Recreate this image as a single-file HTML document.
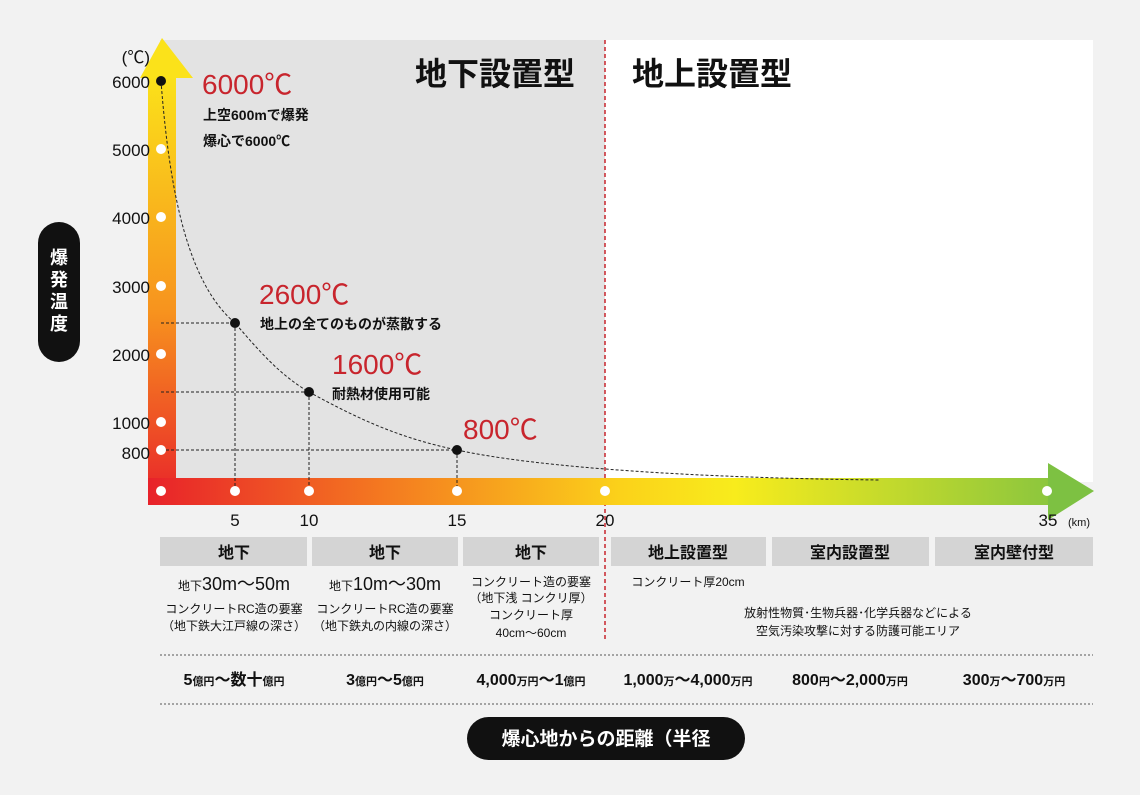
<!DOCTYPE html>
<html><head><meta charset="utf-8"><style>
body{margin:0;background:#f2f2f2;}
svg text{font-family:"Liberation Sans","Noto Sans CJK JP",sans-serif;}
</style></head><body>
<svg width="1140" height="790" xmlns="http://www.w3.org/2000/svg">
<defs>
<linearGradient id="gv" x1="0" y1="1" x2="0" y2="0">
<stop offset="0" stop-color="#e8222a"/><stop offset="0.45" stop-color="#f7931e"/><stop offset="1" stop-color="#fbe21a"/></linearGradient>
<linearGradient id="gh" x1="150" y1="0" x2="1093" y2="0" gradientUnits="userSpaceOnUse">
<stop offset="0" stop-color="#e8222a"/><stop offset="0.25" stop-color="#f47a20"/><stop offset="0.5" stop-color="#fbd21a"/><stop offset="0.62" stop-color="#f8ec1c"/><stop offset="1" stop-color="#7dc142"/></linearGradient>
</defs>
<rect x="0" y="0" width="1140" height="790" fill="#f2f2f2"/>
<rect x="160" y="40" width="445" height="442" fill="#e3e3e3"/>
<rect x="605" y="40" width="488" height="442" fill="#ffffff"/>
<line x1="605" y1="40" x2="605" y2="642" stroke="#c8252d" stroke-width="1.5" stroke-dasharray="4,3"/>
<text x="495" y="85" font-size="32" font-weight="bold" text-anchor="middle" fill="#111">地下設置型</text>
<text x="712" y="85" font-size="32" font-weight="bold" text-anchor="middle" fill="#111">地上設置型</text>
<rect x="148" y="75" width="28" height="430" fill="url(#gv)"/>
<polygon points="140,78 162,38 193,78" fill="#fbe21a"/>
<rect x="148" y="478" width="905" height="27" fill="url(#gh)"/>
<polygon points="1048,463 1094,491 1048,520" fill="#7dc142"/>
<g stroke="#222" stroke-width="1" stroke-dasharray="3,2" fill="none">
<line x1="161" y1="323" x2="235" y2="323"/><line x1="235" y1="323" x2="235" y2="490"/>
<line x1="161" y1="392" x2="309" y2="392"/><line x1="309" y1="392" x2="309" y2="490"/>
<line x1="161" y1="450" x2="457" y2="450"/><line x1="457" y1="450" x2="457" y2="490"/>
<path d="M161,81 C170,200 190,285 235,323 C260,352 280,375 309,392 C360,420 400,438 457,450 C540,468 700,478 880,480"/>
</g>
<g fill="#fff">
<circle cx="161" cy="149" r="5"/><circle cx="161" cy="217" r="5"/><circle cx="161" cy="286" r="5"/><circle cx="161" cy="354" r="5"/><circle cx="161" cy="422" r="5"/><circle cx="161" cy="450" r="5"/>
<circle cx="161" cy="491" r="5"/><circle cx="235" cy="491" r="5"/><circle cx="309" cy="491" r="5"/><circle cx="457" cy="491" r="5"/><circle cx="605" cy="491" r="5"/><circle cx="1047" cy="491" r="5"/>
</g>
<g fill="#111"><circle cx="161" cy="81" r="5"/><circle cx="235" cy="323" r="5"/><circle cx="309" cy="392" r="5"/><circle cx="457" cy="450" r="5"/></g>
<g font-size="17" fill="#111" text-anchor="end">
<text x="150" y="63">(℃)</text>
<text x="150" y="88">6000</text><text x="150" y="156">5000</text><text x="150" y="224">4000</text><text x="150" y="293">3000</text><text x="150" y="361">2000</text><text x="150" y="429">1000</text><text x="150" y="459">800</text>
</g>
<g font-size="17" fill="#111" text-anchor="middle">
<text x="235" y="526">5</text><text x="309" y="526">10</text><text x="457" y="526">15</text><text x="605" y="526">20</text><text x="1048" y="526">35</text>
</g>
<text x="1068" y="526" font-size="11" fill="#111">(km)</text>
<g fill="#c8252d" font-size="28">
<text x="202" y="94">6000℃</text><text x="259" y="304">2600℃</text><text x="332" y="374">1600℃</text><text x="463" y="439">800℃</text>
</g>
<g fill="#111" font-size="14" font-weight="bold">
<text x="203" y="120">上空600mで爆発</text><text x="203" y="146">爆心で6000℃</text>
<text x="260" y="329">地上の全てのものが蒸散する</text>
<text x="332" y="399">耐熱材使用可能</text>
</g>
<rect x="38" y="222" width="42" height="140" rx="21" fill="#111"/>
<text x="59" y="264" font-size="18" font-weight="bold" fill="#fff" text-anchor="middle">爆</text>
<text x="59" y="286" font-size="18" font-weight="bold" fill="#fff" text-anchor="middle">発</text>
<text x="59" y="308" font-size="18" font-weight="bold" fill="#fff" text-anchor="middle">温</text>
<text x="59" y="330" font-size="18" font-weight="bold" fill="#fff" text-anchor="middle">度</text>
<g fill="#d4d4d4">
<rect x="160" y="537" width="147" height="29"/><rect x="312" y="537" width="146" height="29"/><rect x="463" y="537" width="136" height="29"/>
<rect x="611" y="537" width="155" height="29"/><rect x="772" y="537" width="157" height="29"/><rect x="935" y="537" width="158" height="29"/>
</g>
<g font-size="16" font-weight="bold" fill="#111" text-anchor="middle">
<text x="234" y="558">地下</text><text x="385" y="558">地下</text><text x="531" y="558">地下</text>
<text x="688" y="558">地上設置型</text><text x="850" y="558">室内設置型</text><text x="1014" y="558">室内壁付型</text>
</g>
<g fill="#111" text-anchor="middle" font-size="12">
<text x="234" y="590"><tspan font-size="12">地下</tspan><tspan font-size="18">30m～50m</tspan></text>
<text x="234" y="613">コンクリートRC造の要塞</text><text x="234" y="630">（地下鉄大江戸線の深さ）</text>
<text x="385" y="590"><tspan font-size="12">地下</tspan><tspan font-size="18">10m～30m</tspan></text>
<text x="385" y="613">コンクリートRC造の要塞</text><text x="385" y="630">（地下鉄丸の内線の深さ）</text>
<text x="531" y="586">コンクリート造の要塞</text><text x="531" y="602">（地下浅 コンクリ厚）</text><text x="531" y="619">コンクリート厚</text><text x="531" y="637">40cm～60cm</text>
<text x="688" y="586">コンクリート厚20cm</text>
<text x="858" y="617">放射性物質･生物兵器･化学兵器などによる</text><text x="858" y="635">空気汚染攻撃に対する防護可能エリア</text>
</g>
<line x1="160" y1="655" x2="1093" y2="655" stroke="#555" stroke-dasharray="2,2"/>
<line x1="160" y1="704" x2="1093" y2="704" stroke="#555" stroke-dasharray="2,2"/>
<g fill="#111" text-anchor="middle" font-size="16" font-weight="bold">
<text x="234" y="685">5<tspan font-size="11">億円</tspan>～数十<tspan font-size="11">億円</tspan></text>
<text x="385" y="685">3<tspan font-size="11">億円</tspan>～5<tspan font-size="11">億円</tspan></text>
<text x="531" y="685">4,000<tspan font-size="11">万円</tspan>～1<tspan font-size="11">億円</tspan></text>
<text x="688" y="685">1,000<tspan font-size="11">万</tspan>～4,000<tspan font-size="11">万円</tspan></text>
<text x="850" y="685">800<tspan font-size="11">円</tspan>～2,000<tspan font-size="11">万円</tspan></text>
<text x="1014" y="685">300<tspan font-size="11">万</tspan>～700<tspan font-size="11">万円</tspan></text>
</g>
<rect x="467" y="717" width="278" height="43" rx="21.5" fill="#111"/>
<text x="606" y="745" font-size="19" font-weight="bold" fill="#fff" text-anchor="middle">爆心地からの距離（半径</text>
</svg>
</body></html>
